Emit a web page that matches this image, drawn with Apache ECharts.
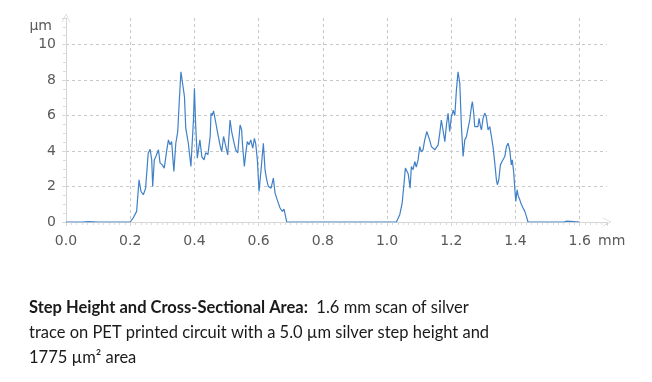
<!DOCTYPE html>
<html>
<head>
<meta charset="utf-8">
<script src="https://cdn.jsdelivr.net/npm/echarts@6/dist/echarts.min.js"></script>
<style>
html,body{margin:0;padding:0;background:#fff;}
#chart{width:652px;height:382px;}
</style>
</head>
<body>
<div id="chart"></div>
<script>
// Scan position (mm)
var positionMm = [
  0.000, 0.050, 0.070, 0.100, 0.200, 0.210, 0.220, 0.2275, 0.2336, 0.241, 0.248, 0.256, 0.262, 0.267, 0.270,
  0.275, 0.280, 0.288, 0.293, 0.300, 0.306, 0.314, 0.319, 0.324, 0.329, 0.336, 0.342, 0.348, 0.353, 0.358,
  0.3635, 0.369, 0.373, 0.381, 0.389, 0.397, 0.400, 0.404, 0.409, 0.414, 0.417, 0.423, 0.430, 0.435, 0.438,
  0.442, 0.449, 0.4517, 0.455, 0.4595, 0.465, 0.4725, 0.4807, 0.4850, 0.4907, 0.496, 0.5037, 0.511, 0.516,
  0.5213, 0.5286, 0.535, 0.5421, 0.547, 0.550, 0.5555, 0.560, 0.5648, 0.570, 0.5754, 0.5816, 0.5867, 0.591,
  0.5960, 0.6012, 0.6075, 0.6147, 0.6199, 0.6252, 0.6303, 0.6386, 0.6459, 0.6511, 0.6595, 0.6667, 0.6739,
  0.6791, 0.6875, 0.800, 1.000, 1.029, 1.0395, 1.047, 1.052, 1.057, 1.062, 1.066, 1.0717, 1.0757, 1.081,
  1.0863, 1.091, 1.0966, 1.1018, 1.107, 1.112, 1.117, 1.1236, 1.1277, 1.133, 1.138, 1.143, 1.1486, 1.154,
  1.159, 1.164, 1.169, 1.174, 1.180, 1.185, 1.190, 1.195, 1.2004, 1.206, 1.211, 1.216, 1.221, 1.2265, 1.2316,
  1.2368, 1.242, 1.247, 1.2523, 1.2575, 1.2627, 1.2658, 1.270, 1.273, 1.278, 1.283, 1.2866, 1.291, 1.294,
  1.299, 1.3044, 1.309, 1.3146, 1.320, 1.325, 1.330, 1.3355, 1.3405, 1.3436, 1.348, 1.353, 1.358, 1.362,
  1.3667, 1.3717, 1.377, 1.382, 1.387, 1.390, 1.3947, 1.398, 1.401, 1.405, 1.408, 1.4134, 1.418, 1.4237,
  1.429, 1.434, 1.439, 1.550, 1.560, 1.600
];
// Height (µm)
var heightUm = [
  0, 0, 0.02, 0, 0, 0.25, 0.6, 2.38, 1.72, 1.54, 1.91, 3.88, 4.1, 3.5, 2.0,
  3.5, 3.69, 4.07, 3.32, 3.22, 3.04, 4.07, 4.63, 4.35, 4.53, 2.85, 4.44, 5.1, 6.88, 8.47,
  8.38, 7.06, 5.29, 4.44, 3.13, 5.75, 7.54, 5.38, 3.6, 4.25, 4.63, 3.69, 3.5, 3.9, 3.97,
  3.8, 4.82, 6.13, 6.0, 6.26, 5.75, 5.0, 4.25, 3.97, 4.82, 4.4, 3.78, 5.75, 5.1,
  4.63, 4.07, 3.9, 5.47, 5.2, 4.3, 3.13, 3.9, 4.53, 4.35, 4.63, 4.16, 4.72, 4.4,
  3.5, 1.72, 2.94, 4.44, 2.94, 2.38, 2.0, 1.91, 2.47, 1.63, 1.16, 0.79, 0.6,
  0.73, 0, 0, 0, 0, 0.41, 1.07, 2.0, 3.04, 2.94, 2.7, 1.91, 3.13, 2.95,
  3.41, 3.1, 3.5, 4.25, 3.95, 4.07, 4.6, 5.1, 5.19, 4.6, 4.25, 4.15, 4.07, 3.97,
  4.35, 5.0, 5.75, 5.2, 4.53, 5.5, 6.13, 5.1, 5.94, 6.3, 6.0, 7.44, 8.47, 7.82, 5.38,
  3.69, 4.63, 4.8, 5.29, 5.75, 6.5, 6.78, 6.13, 5.38, 5.47, 5.38, 5.85, 5.38, 5.19,
  5.85, 6.13, 5.94, 5.19, 5.38, 4.82, 4.25, 3.32, 2.38, 2.1, 2.38, 3.22, 3.41, 3.32,
  3.69, 4.25, 4.44, 4.07, 3.22, 3.5, 2.75, 1.82, 1.16, 1.82, 1.5, 1.25, 1.0, 0.79,
  0.6, 0.32, 0, 0, 0.05, 0
];
var xTickLabels = ['0.0', '0.2', '0.4', '0.6', '0.8', '1.0', '1.2', '1.4', '1.6'];
var yTickLabels = ['0', '2', '4', '6', '8', '10'];
var xUnit = 'mm';
var yUnit = 'µm';
var captionBold = 'Step Height and Cross-Sectional Area:';
var captionRest = ['1.6 mm scan of silver', 'trace on PET printed circuit with a 5.0 µm silver step height and', '1775 µm² area'];

var seriesData = positionMm.map(function (x, i) { return [x, heightUm[i]]; });
var chevron = 'path://M0,10 L5,0 L10,10 L9.2,10 L5,1.6 L0.8,10 Z';
var labelFont = '"DejaVu Sans", sans-serif';

var chart = echarts.init(document.getElementById('chart'), null, {renderer: 'canvas'});
chart.setOption({
  animation: false,
  backgroundColor: '#ffffff',
  title: {
    left: 24, top: 290,
    text: '{b|' + captionBold + '}{r|  ' + captionRest[0] + '}\n{r|' + captionRest[1] + '}\n{r|' + captionRest[2] + '}',
    textStyle: {
      lineHeight: 25,
      rich: {
        b: {fontFamily: 'Lato, sans-serif', fontWeight: 'bold', fontSize: 16.5, color: '#1a1a1a', lineHeight: 25},
        r: {fontFamily: 'Lato, sans-serif', fontWeight: 'normal', fontSize: 16.5, color: '#1a1a1a', lineHeight: 25}
      }
    }
  },
  grid: {left: 66, right: 45, top: 18, bottom: 160, containLabel: false},
  xAxis: {
    type: 'value', min: 0, max: 1.685, interval: 0.2,
    name: xUnit, nameLocation: 'end', nameGap: -9,
    nameTextStyle: {color: '#595959', fontSize: 14, fontFamily: labelFont, verticalAlign: 'top', padding: [12, 0, 0, 0]},
    axisLine: {show: true, symbol: ['none', chevron], symbolSize: [10, 9], lineStyle: {color: '#d6d6d6', width: 1}},
    axisTick: {show: true, length: 4, lineStyle: {color: '#d6d6d6'}},
    minorTick: {show: true, splitNumber: 12, length: 3, lineStyle: {color: '#dcdcdc'}},
    axisLabel: {
      color: '#595959', fontSize: 14, fontFamily: labelFont, margin: 12, showMaxLabel: false,
      formatter: function (v) { var i = Math.round(v / 0.2); return Math.abs(v - i * 0.2) < 1e-6 ? (xTickLabels[i] || '') : ''; }
    },
    splitLine: {show: true, showMaxLine: false, lineStyle: {color: '#c8c8c8', type: [3, 3], width: 1}}
  },
  yAxis: {
    type: 'value', min: 0, max: 11.5, interval: 2,
    name: yUnit, nameLocation: 'end', nameGap: -8,
    nameTextStyle: {color: '#595959', fontSize: 14, fontFamily: labelFont, align: 'right', verticalAlign: 'middle', padding: [0, 14, 0, 0]},
    axisLine: {show: true, symbol: ['none', chevron], symbolSize: [10, 9], lineStyle: {color: '#d6d6d6', width: 1}},
    axisTick: {show: true, length: 4, lineStyle: {color: '#d6d6d6'}},
    minorTick: {show: true, splitNumber: 4, length: 3, lineStyle: {color: '#dcdcdc'}},
    axisLabel: {
      color: '#595959', fontSize: 14, fontFamily: labelFont, margin: 10, showMaxLabel: false,
      formatter: function (v) { var i = Math.round(v / 2); return Math.abs(v - i * 2) < 1e-6 ? (yTickLabels[i] || '') : ''; }
    },
    splitLine: {show: true, showMaxLine: false, lineStyle: {color: '#c8c8c8', type: [3, 3], width: 1}}
  },
  series: [{
    type: 'line', data: seriesData, showSymbol: false, symbol: 'none',
    lineStyle: {color: '#3f80c8', width: 1.2}
  }]
});
</script>
</body>
</html>
